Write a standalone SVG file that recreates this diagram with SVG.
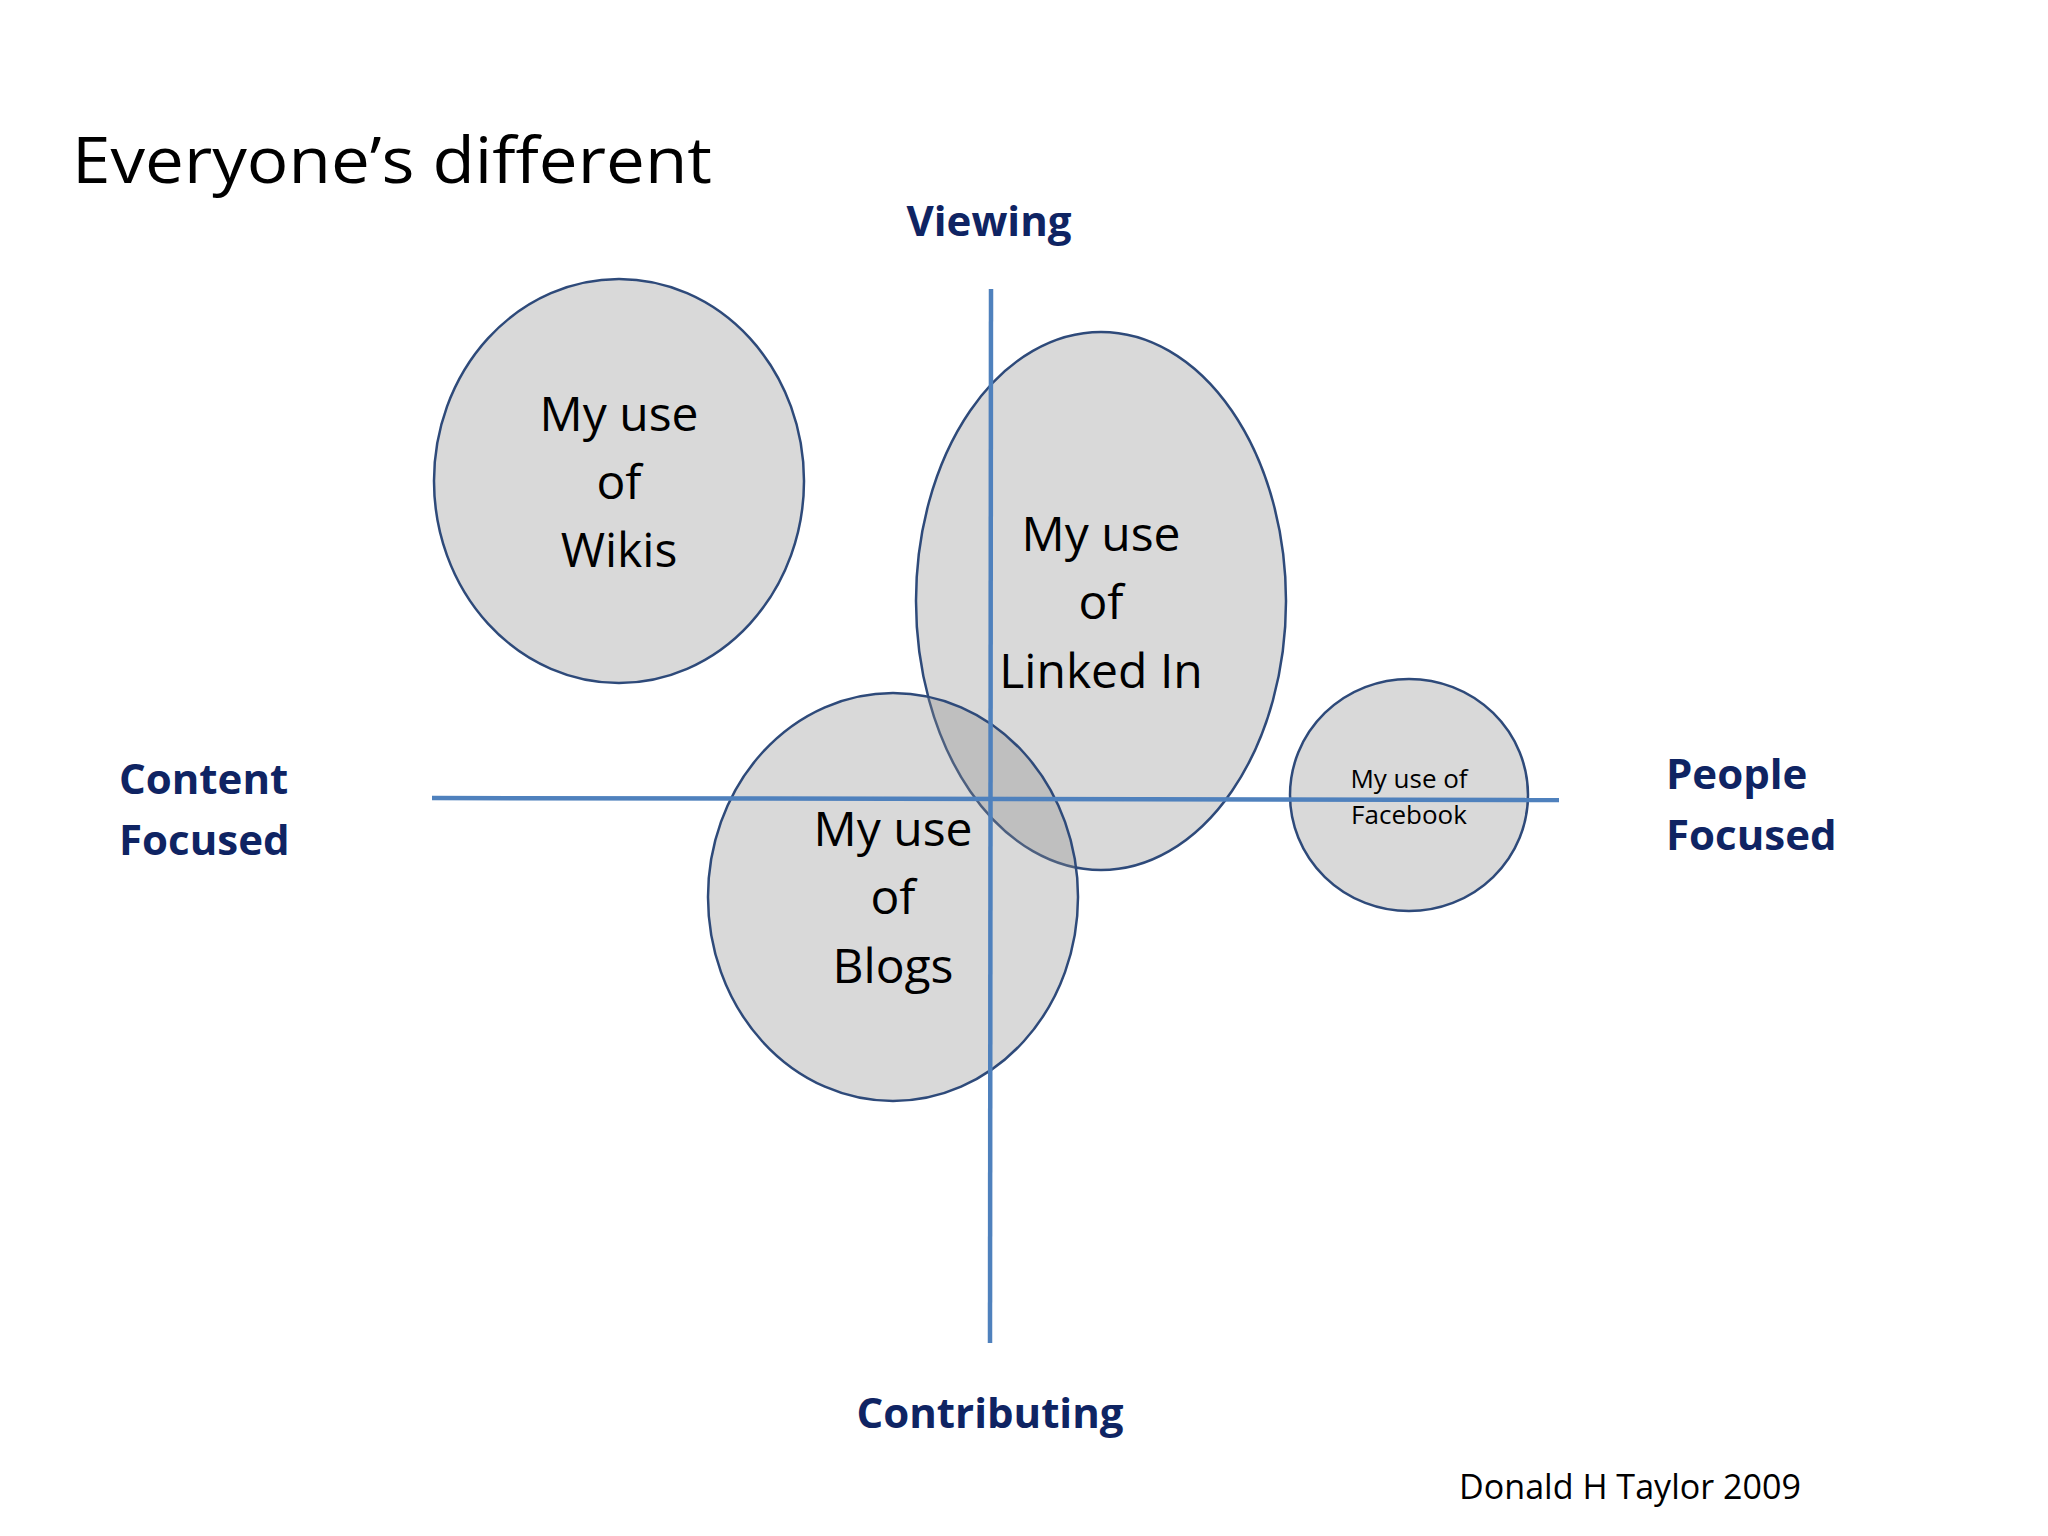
<svg xmlns="http://www.w3.org/2000/svg" width="2048" height="1536" viewBox="0 0 2048 1536">
<style>
text{font-family:"Open Sans","Liberation Sans",sans-serif;fill:#000}
.n{font-size:48px;text-anchor:middle}
.f{font-size:26px;text-anchor:middle}
.ax{font-size:42px;font-weight:bold;fill:#0f2463}
.c{text-anchor:middle}
.e{fill:#8c8c8c;fill-opacity:0.33;stroke:#2e4a7a;stroke-width:2.5}
.axis{stroke:#4f81bd;stroke-width:4.5}
</style>
<rect width="2048" height="1536" fill="#fff"/>
<text x="72" y="183" font-size="64" textLength="640" lengthAdjust="spacingAndGlyphs">Everyone’s different</text>
<g id="wikis"><ellipse class="e" cx="619" cy="481" rx="185" ry="202"/>
<text class="n" x="619" y="431">My use</text><text class="n" x="619" y="499">of</text><text class="n" x="619" y="567">Wikis</text></g>
<g id="linkedin"><ellipse class="e" cx="1101" cy="601" rx="185" ry="269"/>
<text class="n" x="1101" y="551">My use</text><text class="n" x="1101" y="619">of</text><text class="n" x="1101" y="688">Linked In</text></g>
<g id="blogs"><ellipse class="e" cx="893" cy="897" rx="185" ry="204"/>
<text class="n" x="893" y="846">My use</text><text class="n" x="893" y="914">of</text><text class="n" x="893" y="983">Blogs</text></g>
<g id="facebook"><ellipse class="e" cx="1409" cy="795" rx="119" ry="116"/>
<text class="f" x="1409" y="788">My use of</text><text class="f" x="1409" y="824">Facebook</text></g>
<g id="connectors">
<line class="axis" x1="991" y1="289" x2="990" y2="1343"/>
<line class="axis" x1="432" y1="798" x2="1559" y2="800"/>
</g>
<g id="labels">
<text class="ax c" x="989" y="236">Viewing</text>
<text class="ax c" x="990" y="1428">Contributing</text>
<text class="ax" x="119" y="794">Content</text><text class="ax" x="119" y="855">Focused</text>
<text class="ax" x="1666" y="789">People</text><text class="ax" x="1666" y="850">Focused</text>
</g>
<text x="1459" y="1499" font-size="34" textLength="342" lengthAdjust="spacingAndGlyphs">Donald H Taylor 2009</text>
</svg>
